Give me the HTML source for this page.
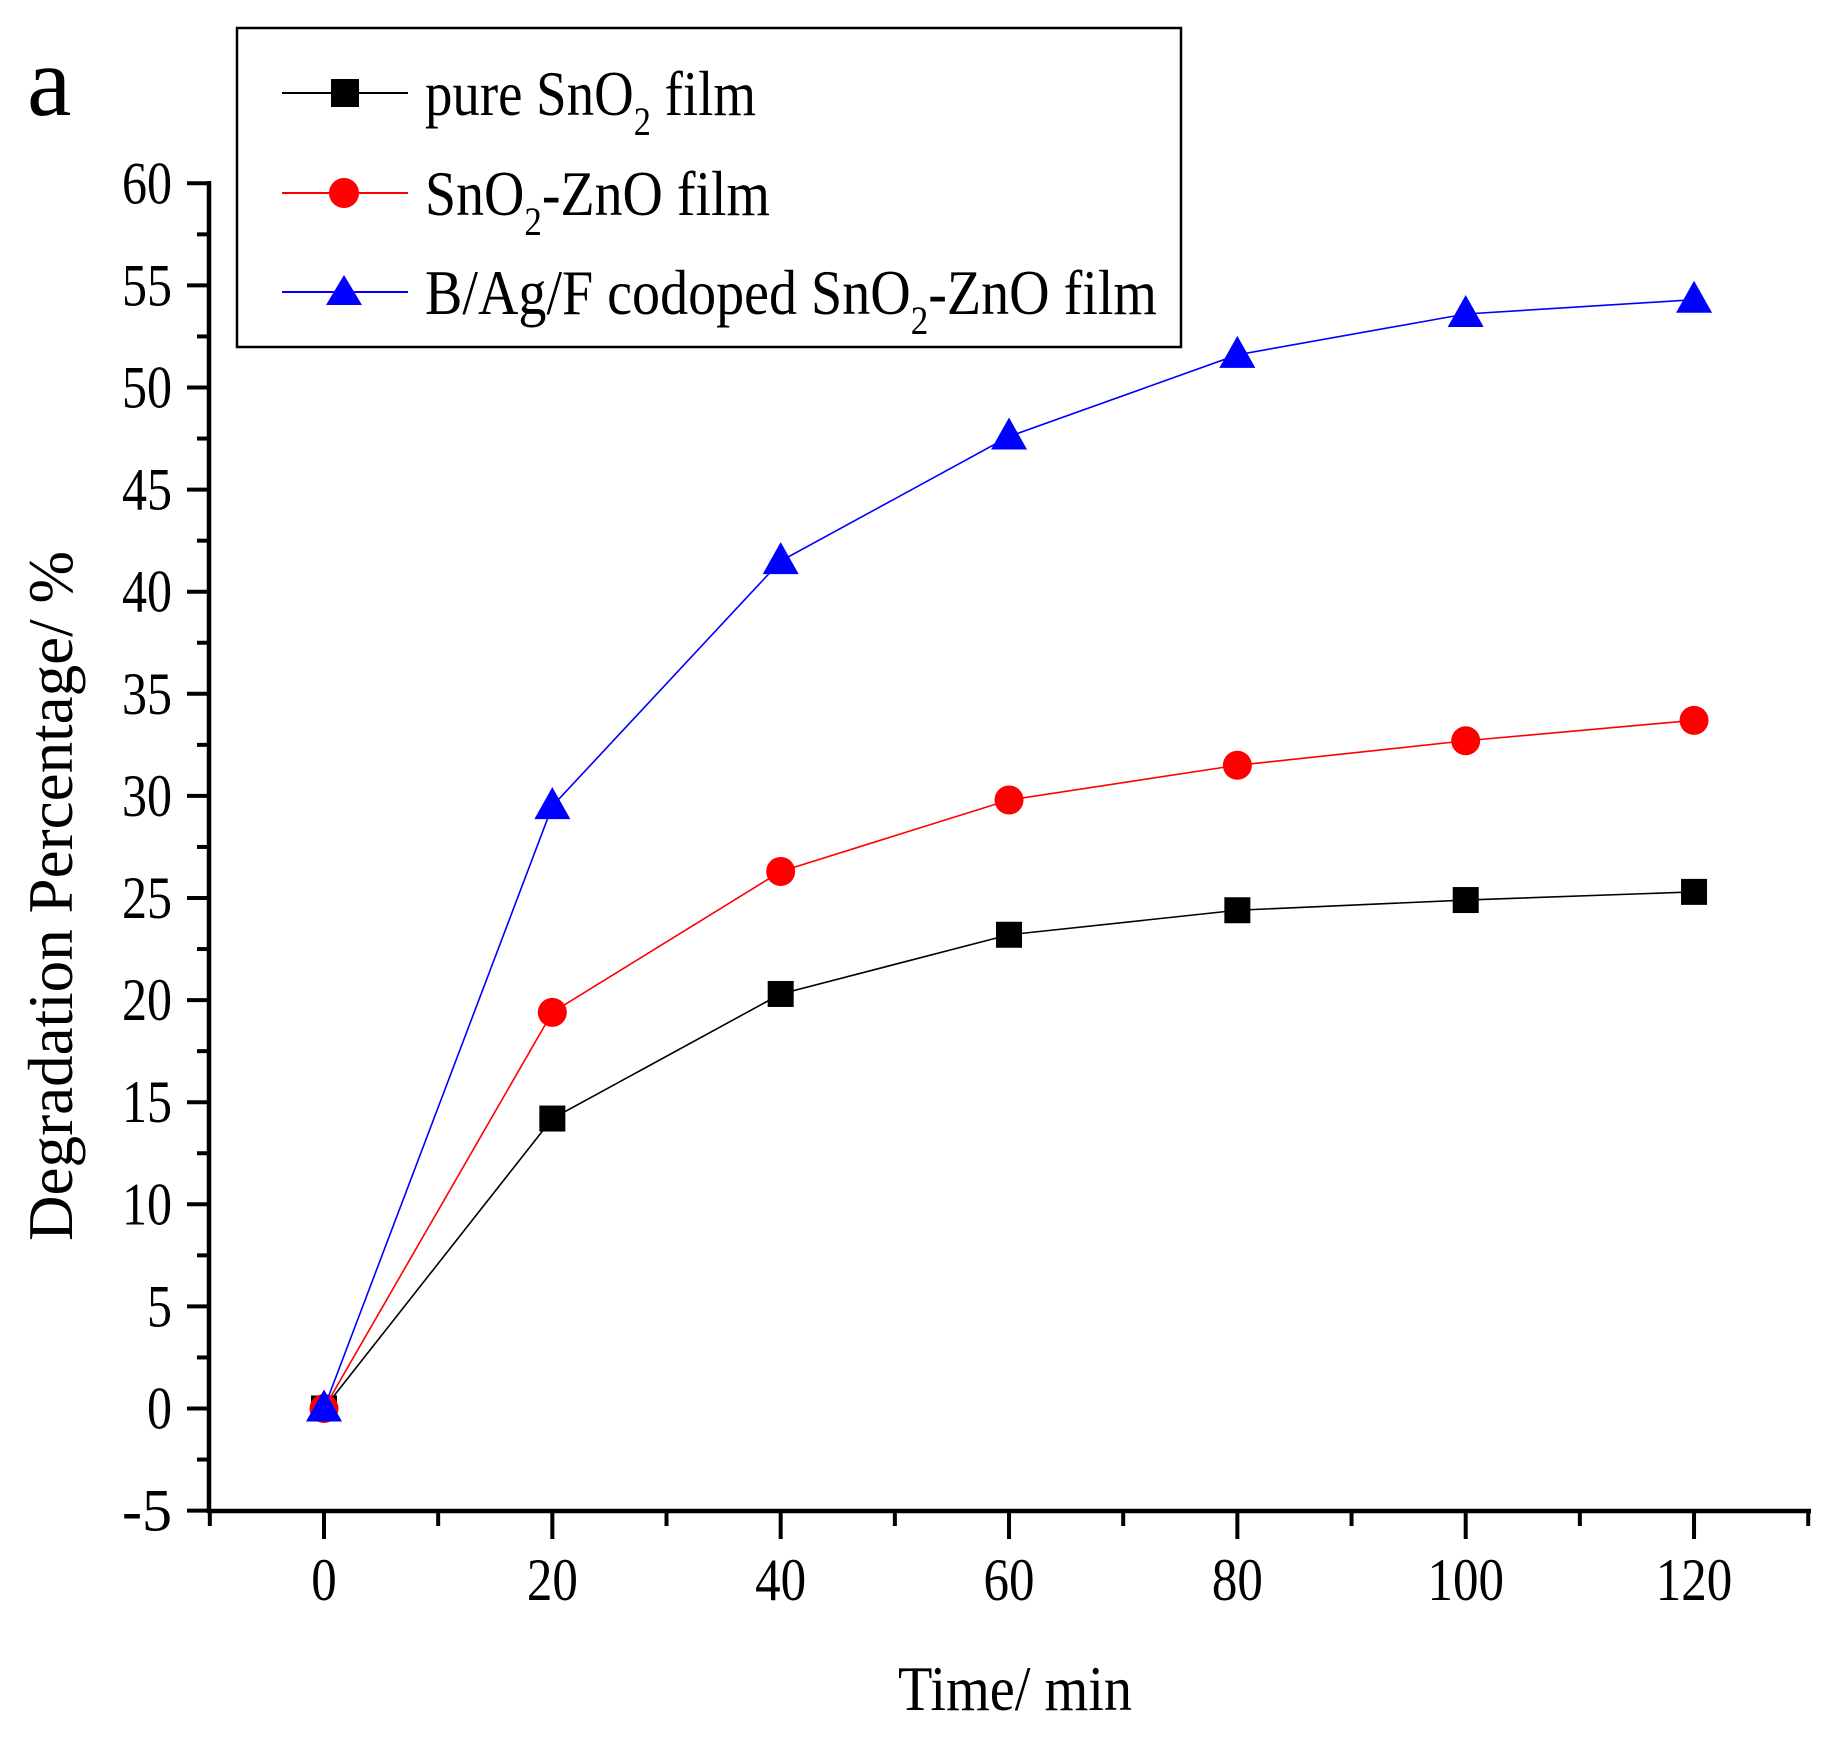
<!DOCTYPE html>
<html><head><style>html,body{margin:0;padding:0;background:#fff}</style></head><body>
<svg width="1836" height="1732" xmlns="http://www.w3.org/2000/svg" font-family="Liberation Serif, serif">
<rect width="1836" height="1732" fill="#fff"/>
<g stroke="#000" stroke-width="4.5" fill="none">
<line x1="209" y1="181" x2="209" y2="1513"/>
<line x1="207" y1="1511" x2="1811" y2="1511"/>
</g>
<g id="yt" stroke="#000" stroke-width="4"></g>
<g id="xt" stroke="#000" stroke-width="4"></g>
<g id="yl" font-size="60" text-anchor="end"></g>
<g id="xl" font-size="60" text-anchor="middle"></g>
<text x="1015" y="1710" font-size="64" text-anchor="middle" textLength="234" lengthAdjust="spacingAndGlyphs">Time/ min</text>
<text transform="translate(72,896) rotate(-90)" font-size="64" text-anchor="middle" textLength="690" lengthAdjust="spacingAndGlyphs">Degradation Percentage/ %</text>
<text x="27" y="115" font-size="100">a</text>
<rect x="237" y="28" width="944" height="319" fill="none" stroke="#000" stroke-width="2.5"/>
<line x1="282" y1="93" x2="408" y2="93" stroke="#000" stroke-width="2"/>
<rect x="331" y="79" width="28" height="28" fill="#000"/>
<text x="425" y="115" font-size="64" textLength="331" lengthAdjust="spacingAndGlyphs">pure SnO<tspan font-size="40" dy="20">2</tspan><tspan dy="-20"> film</tspan></text>
<line x1="282" y1="193" x2="408" y2="193" stroke="#f00" stroke-width="2"/>
<circle cx="344" cy="193" r="15" fill="#f00"/>
<text x="425" y="215" font-size="64" textLength="345" lengthAdjust="spacingAndGlyphs">SnO<tspan font-size="40" dy="20">2</tspan><tspan dy="-20">-ZnO film</tspan></text>
<line x1="282" y1="292" x2="408" y2="292" stroke="#00f" stroke-width="2"/>
<polygon points="344,275 326,305 362,305" fill="#00f"/>
<text x="425" y="314" font-size="64" textLength="732" lengthAdjust="spacingAndGlyphs">B/Ag/F codoped SnO<tspan font-size="40" dy="20">2</tspan><tspan dy="-20">-ZnO film</tspan></text>
<g id="data"></g>
</svg>
<script>
const NS="http://www.w3.org/2000/svg";
function el(p,t,a,txt){const e=document.createElementNS(NS,t);for(const k in a)e.setAttribute(k,a[k]);if(txt!==undefined)e.textContent=txt;document.getElementById(p).appendChild(e);return e;}
const X=t=>324+t*11.417, Y=v=>1408.5-v*20.42;
for(let v=-5;v<=60;v+=2.5){const maj=v%5===0;const y=Y(v);el('yt','line',{x1:maj?187:197,y1:y,x2:209,y2:y});
 if(maj){const s=String(v);el('yl','text',{x:172,y:y+20,textLength:s.length*25,lengthAdjust:'spacingAndGlyphs'},s);}}
for(let t=-10;t<=130;t+=10){const maj=t%20===0;const x=X(t);el('xt','line',{x1:x,y1:1511,x2:x,y2:maj?1539:1526});
 if(maj&&t>=0){const s=String(t);el('xl','text',{x:x,y:1600,textLength:s.length*25.5,lengthAdjust:'spacingAndGlyphs'},s);}}
const ts=[0,20,40,60,80,100,120];
const S=[[ "#000",[0,14.2,20.3,23.2,24.4,24.9,25.3],'sq'],["#f00",[0,19.4,26.3,29.8,31.5,32.7,33.7],'c'],["#00f",[0,29.5,41.5,47.6,51.6,53.6,54.3],'tr']];
for(const [c,d,m] of S){el('data','polyline',{points:ts.map((t,i)=>X(t)+','+Y(d[i])).join(' '),fill:'none',stroke:c,'stroke-width':1.6});
 ts.forEach((t,i)=>{const x=X(t),y=Y(d[i]);
  if(m==='sq')el('data','rect',{x:x-13,y:y-13,width:26,height:26,fill:c});
  else if(m==='c')el('data','circle',{cx:x,cy:y,r:14.5,fill:c});
  else el('data','polygon',{points:`${x},${y-19} ${x-18},${y+13} ${x+18},${y+13}`,fill:c});});}
</script>
</body></html>
